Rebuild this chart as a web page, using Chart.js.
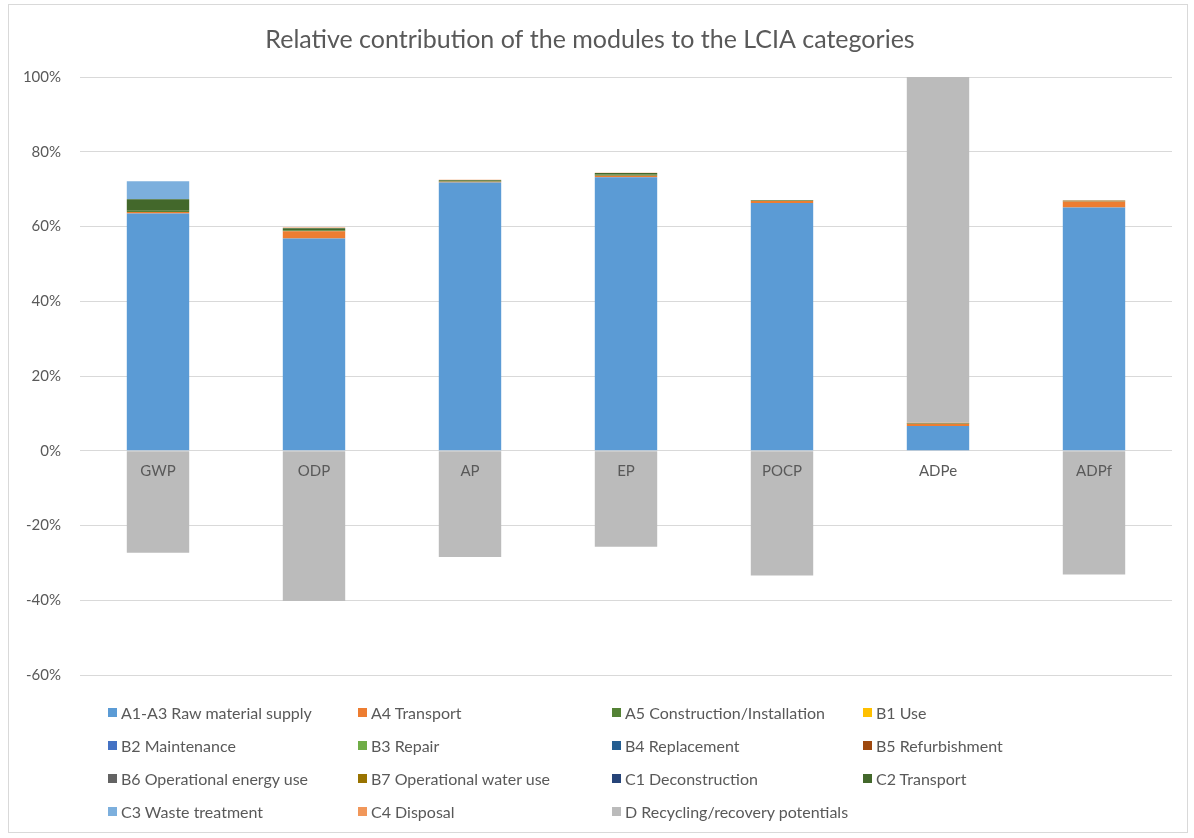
<!DOCTYPE html>
<html>
<head>
<meta charset="utf-8">
<script src="https://cdn.jsdelivr.net/npm/chart.js@4/dist/chart.umd.min.js"></script>
<style>
  body { margin: 0; background: #fff; font-family: Lato, "Open Sans", sans-serif; }
  #wrap { position: relative; width: 1194px; height: 838px; }
  #frame { position: absolute; left: 8px; top: 4px; width: 1178px; height: 827px; border: 1px solid #d9d9d9; }
  #box { position: absolute; left: 8px; top: 4px; width: 1180px; height: 699px; }
  #legenda { position: absolute; left: 108px; top: 696px; display: grid;
    grid-template-columns: 250px 254px 251px 250px; grid-auto-rows: 33px;
    font-size: 16px; color: #595959; }
  #legenda div { display: flex; align-items: center; white-space: nowrap; }
  #legenda span.q { width: 9px; height: 9px; margin-right: 4px; display: inline-block; }
</style>
</head>
<body>
<div id="wrap">
  <div id="frame"></div>
  <div id="box"><canvas id="grafico" width="1180" height="699"></canvas></div>
  <div id="legenda"></div>
</div>
<script>
const categorias = ['GWP', 'ODP', 'AP', 'EP', 'POCP', 'ADPe', 'ADPf'];
const modulos = ['A1-A3 Raw material supply', 'A4 Transport', 'A5 Construction/Installation', 'B1 Use',
  'B2 Maintenance', 'B3 Repair', 'B4 Replacement', 'B5 Refurbishment',
  'B6 Operational energy use', 'B7 Operational water use', 'C1 Deconstruction', 'C2 Transport',
  'C3 Waste treatment', 'C4 Disposal', 'D Recycling/recovery potentials'];
const cores = ['#5B9BD5', '#ED7D31', '#548235', '#FFC000', '#4472C4', '#70AD47', '#255E91', '#9E480E',
  '#636363', '#997300', '#264478', '#43682B', '#7CAFDD', '#F1975A', '#BBBBBB'];

// valores em % por modulo
const a1a3 = [63.5, 56.8, 71.8, 73.2, 66.3, 6.6, 65.1];
const a4 = [0.4, 1.9, 0.2, 0.4, 0.5, 0.6, 1.6];
const a5 = [0.3, 0.3, 0.1, 0.3, 0.1, 0.1, 0.1];
const b1 = [0, 0, 0, 0, 0, 0, 0];
const b2 = [0, 0, 0, 0, 0, 0, 0];
const b3 = [0, 0, 0, 0, 0, 0, 0];
const b4 = [0, 0, 0, 0, 0, 0, 0];
const b5 = [0, 0, 0, 0, 0, 0, 0];
const b6 = [0, 0, 0, 0, 0, 0, 0];
const b7 = [0, 0, 0, 0, 0, 0, 0];
const c1 = [0, 0, 0, 0, 0, 0, 0];
const c2 = [3.1, 0.5, 0.3, 0.4, 0.1, 0.1, 0.1];
const c3 = [4.8, 0.1, 0, 0, 0, 0, 0];
const c4 = [0, 0.1, 0.1, 0.1, 0.1, 0.1, 0.1];
const d = [-27.3, -40.2, -28.4, -25.7, -33.4, 92.5, -33.1];

const ticksY = { min: -60, max: 100, passo: 20 };
const series = [a1a3, a4, a5, b1, b2, b3, b4, b5, b6, b7, c1, c2, c3, c4, d];

const cinza = '#595959';

const grafico = new Chart(document.getElementById('grafico'), {
  type: 'bar',
  data: {
    labels: categorias,
    datasets: series.map((valores, i) => ({
      label: modulos[i],
      data: valores,
      backgroundColor: cores[i],
      barPercentage: 0.4,
      categoryPercentage: 1.0
    }))
  },
  options: {
    responsive: false,
    animation: false,
    layout: { padding: { left: 0, right: 16, bottom: 16 } },
    plugins: {
      legend: { display: false },
      tooltip: { enabled: false },
      title: {
        display: true,
        text: 'Relative contribution of the modules to the LCIA categories',
        color: cinza,
        font: { family: 'Lato', size: 25, weight: 'normal' },
        padding: { top: 21, bottom: 22 }
      }
    },
    scales: {
      x: {
        stacked: true,
        position: { y: 0 },
        grid: { display: false },
        border: { display: false },
        ticks: { z: 1, color: cinza, font: { family: 'Lato', size: 15 }, padding: 3 }
      },
      y: {
        stacked: true,
        min: ticksY.min,
        max: ticksY.max,
        grid: { color: '#d9d9d9', drawTicks: false },
        border: { display: false },
        ticks: {
          stepSize: ticksY.passo,
          color: cinza,
          padding: 19,
          font: { family: 'Lato', size: 15 },
          callback: v => v + '%'
        },
        afterFit: s => { s.width = 72; }
      }
    }
  }
});

const legenda = document.getElementById('legenda');
grafico.data.datasets.forEach(ds => {
  const item = document.createElement('div');
  item.innerHTML = `<span class="q" style="background:${ds.backgroundColor}"></span>${ds.label}`;
  legenda.appendChild(item);
});
</script>
</body>
</html>
